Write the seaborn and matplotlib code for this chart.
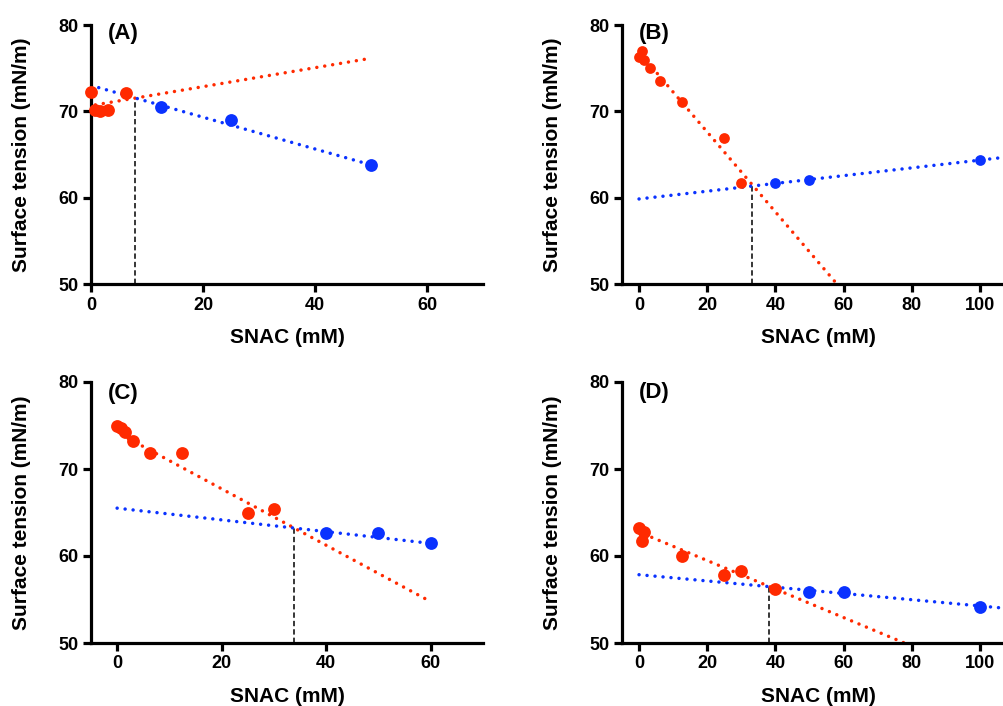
import matplotlib
matplotlib.use("Agg")
import matplotlib.pyplot as plt
import seaborn as sns
import pandas as pd

sns.set_style("ticks")
plt.rcParams["font.family"] = ["Liberation Sans", "DejaVu Sans"]
plt.rcParams["font.weight"] = "bold"
plt.rcParams["axes.labelweight"] = "bold"
for key in ("text.color", "axes.labelcolor", "xtick.color", "ytick.color",
            "axes.edgecolor"):
    plt.rcParams[key] = "black"

RED = "#FF2A00"
BLUE = "#0A32FF"

# ---- Panel A ----
a_red_x = [0, 0.78, 1.56, 3.125, 6.25]
a_red_y = [72.2, 70.2, 70.0, 70.2, 72.1]
a_blue_x = [12.5, 25, 50]
a_blue_y = [70.45, 69.0, 63.8]
a_red_fit_x = [0.78, 50]
a_red_fit_y = [70.75, 76.15]
a_blue_fit_x = [0, 50]
a_blue_fit_y = [73.0, 63.8]
a_cmc_x, a_cmc_y = 7.8, 71.6

# ---- Panel B ----
b_red_x = [0, 0.78, 1.56, 3.125, 6.25, 12.5, 25, 30]
b_red_y = [76.3, 77.0, 75.9, 75.0, 73.5, 71.1, 66.9, 61.7]
b_blue_x = [40, 50, 100]
b_blue_y = [61.7, 62.0, 64.35]
b_red_fit_x = [0.78, 60]
b_red_fit_y = [76.5, 49.1]
b_blue_fit_x = [0, 110]
b_blue_fit_y = [59.85, 64.8]
b_cmc_x, b_cmc_y = 33.2, 61.4

# ---- Panel C ----
c_red_x = [0, 0.78, 1.56, 3.125, 6.25, 12.5, 25, 30]
c_red_y = [74.9, 74.75, 74.2, 73.25, 71.8, 71.8, 65.0, 65.45]
c_blue_x = [40, 50, 60]
c_blue_y = [62.7, 62.6, 61.45]
c_red_fit_x = [0.78, 60]
c_red_fit_y = [73.95, 54.75]
c_blue_fit_x = [0, 60]
c_blue_fit_y = [65.5, 61.45]
c_cmc_x, c_cmc_y = 33.9, 63.25

# ---- Panel D ----
d_red_x = [0, 0.78, 1.56, 12.5, 25, 30, 40]
d_red_y = [63.2, 61.7, 62.8, 59.95, 57.8, 58.25, 56.25]
d_blue_x = [50, 60, 100]
d_blue_y = [55.9, 55.85, 54.1]
d_red_fit_x = [1.56, 80]
d_red_fit_y = [62.5, 49.65]
d_blue_fit_x = [0, 110]
d_blue_fit_y = [57.85, 53.9]
d_cmc_x, d_cmc_y = 38.2, 56.5

y_ticks = [50, 60, 70, 80]

W, H = 1004, 706
fig = plt.figure(figsize=(W / 100, H / 100), dpi=100)

panels = [
    dict(label="(A)", rect=[91, 284, 392, 259], xlim=(0, 70), xticks=[0, 20, 40, 60],
         red=(a_red_x, a_red_y), blue=(a_blue_x, a_blue_y),
         red_fit=(a_red_fit_x, a_red_fit_y), blue_fit=(a_blue_fit_x, a_blue_fit_y),
         cmc=(a_cmc_x, a_cmc_y), s=85, ly=0.969),
    dict(label="(B)", rect=[622, 284, 392, 259], xlim=(-5, 110), xticks=[0, 20, 40, 60, 80, 100],
         red=(b_red_x, b_red_y), blue=(b_blue_x, b_blue_y),
         red_fit=(b_red_fit_x, b_red_fit_y), blue_fit=(b_blue_fit_x, b_blue_fit_y),
         cmc=(b_cmc_x, b_cmc_y), s=60, ly=0.969),
    dict(label="(C)", rect=[91, 643, 392, 261], xlim=(-5, 70), xticks=[0, 20, 40, 60],
         red=(c_red_x, c_red_y), blue=(c_blue_x, c_blue_y),
         red_fit=(c_red_fit_x, c_red_fit_y), blue_fit=(c_blue_fit_x, c_blue_fit_y),
         cmc=(c_cmc_x, c_cmc_y), s=85, ly=0.957),
    dict(label="(D)", rect=[622, 643, 392, 261], xlim=(-5, 110), xticks=[0, 20, 40, 60, 80, 100],
         red=(d_red_x, d_red_y), blue=(d_blue_x, d_blue_y),
         red_fit=(d_red_fit_x, d_red_fit_y), blue_fit=(d_blue_fit_x, d_blue_fit_y),
         cmc=(d_cmc_x, d_cmc_y), s=85, ly=0.958),
]

dot_style = dict(lw=2.5, linestyle=(0, (0.01, 2.3)), dash_capstyle="round")

for p in panels:
    left, bottom_px, w, h = p["rect"]
    ax = fig.add_axes([left / W, (H - bottom_px) / H, w / W, h / H])

    # fitted trend lines
    for (fx, fy), col in ((p["red_fit"], RED), (p["blue_fit"], BLUE)):
        sns.lineplot(x=fx, y=fy, ax=ax, color=col, estimator=None, sort=False,
                     zorder=2, **dot_style)

    # intersection marker
    cx, cy = p["cmc"]
    ax.vlines(cx, 50, cy, colors="black", linewidth=1.1,
              linestyles=[(0, (3.5, 2))], zorder=1.5)

    # measured points
    df_red = pd.DataFrame({"SNAC": p["red"][0], "tension": p["red"][1]})
    df_blue = pd.DataFrame({"SNAC": p["blue"][0], "tension": p["blue"][1]})
    sns.scatterplot(data=df_red, x="SNAC", y="tension", ax=ax, color=RED, s=p["s"],
                    linewidth=0, zorder=3, clip_on=False)
    sns.scatterplot(data=df_blue, x="SNAC", y="tension", ax=ax, color=BLUE, s=p["s"],
                    linewidth=0, zorder=3, clip_on=False)

    ax.set_xlim(*p["xlim"])
    ax.set_ylim(50, 80)
    ax.set_xticks(p["xticks"])
    ax.set_yticks(y_ticks)
    sns.despine(ax=ax)
    for side in ("left", "bottom"):
        ax.spines[side].set_linewidth(2.3)
        ax.spines[side].set_color("black")
    ax.tick_params(axis="both", length=6, width=2.3, labelsize=13, pad=3,
                   color="black", labelcolor="black")

    ax.set_xlabel("SNAC (mM)", fontsize=15, fontweight="bold", color="black")
    ax.set_ylabel("Surface tension (mN/m)", fontsize=15, fontweight="bold", color="black")
    ax.xaxis.set_label_coords(0.5, -0.205)
    ax.xaxis.label.set_va("center")
    ax.yaxis.set_label_coords(-0.177, 0.5)
    ax.yaxis.label.set_va("center")

    ax.text(0.043, p["ly"], p["label"], transform=ax.transAxes, fontsize=16,
            fontweight="bold", ha="left", va="center", color="black")

fig.savefig("out.png", dpi=100)
